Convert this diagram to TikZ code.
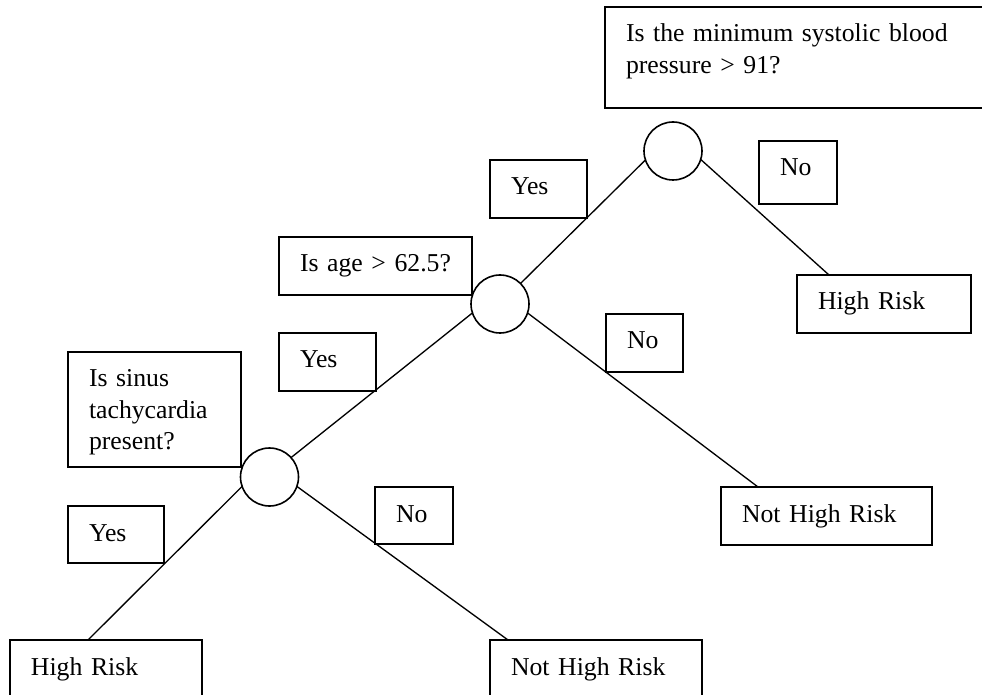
\documentclass[tikz,border=0pt]{standalone}
\usepackage{fontspec}
\setmainfont{Liberation Serif}

\tikzset{every picture/.style={line width=0.75pt}}
\tikzset{
  txtbox/.style={draw, line width=1.2pt, anchor=north west, outer sep=0pt,
    inner xsep=15.75pt, inner ysep=0pt, align=left, text height=26.25pt,
    font=\fontsize{19.3}{23.3}\selectfont},
  split/.style={draw, circle, line width=1.2pt, minimum size=43.5pt, inner sep=0pt, outer sep=0pt},
  branch/.style={line width=1pt}
}

\begin{document}
\begin{tikzpicture}[x=0.75pt,y=0.75pt,yscale=-1,xscale=1]
\useasboundingbox (0,0) rectangle (982,695);

% Text Node
\node [txtbox, text width=257.25pt, text depth=49.5pt] (sbp) at (605,7) {Is the minimum systolic blood\\pressure > 91?};
% Text Node
\node [txtbox, text width=113.25pt, text depth=17.25pt] (age) at (279,237) {\mbox{Is age > 62.5?}};
% Text Node
\node [txtbox, text width=98.25pt, text depth=60pt] (sinus) at (68,352) {Is sinus\\tachycardia\\present?};

% Text Node
\node [txtbox, text width=41.25pt, text depth=17.25pt] (yes1) at (490,160) {Yes};
% Text Node
\node [txtbox, text width=27pt, text depth=21pt] (no1) at (759,141) {No};
% Text Node
\node [txtbox, text width=41.25pt, text depth=17.25pt] (yes2) at (279,333) {Yes};
% Text Node
\node [txtbox, text width=26.25pt, text depth=17.25pt] (no2) at (606,314) {No};
% Text Node
\node [txtbox, text width=40.5pt, text depth=16.5pt] (yes3) at (68,506) {Yes};
% Text Node
\node [txtbox, text width=27pt, text depth=16.5pt] (no3) at (375,487) {No};

% Text Node
\node [txtbox, text width=99pt, text depth=17.25pt] (hr1) at (797,275) {High Risk};
% Text Node
\node [txtbox, text width=126.75pt, text depth=17.25pt] (nhr1) at (721,487) {Not High Risk};
% Text Node
\node [txtbox, text width=112.5pt, text depth=17.25pt] (hr2) at (10,640) {High Risk};
% Text Node
\node [txtbox, text width=127.5pt, text depth=17.25pt] (nhr2) at (490,640) {Not High Risk};

% Split Node
\node [split] (c1) at (673,151) {};
% Split Node
\node [split] (c2) at (500,304) {};
% Split Node
\node [split] (c3) at (269.5,477) {};

% Connection
\draw [branch] (c1.198) -- (c2.45);
% Connection
\draw [branch] (c1.343) -- ([xshift=24pt]hr1.north west);
% Connection
\draw [branch] (c2.198) -- (c3.42);
% Connection
\draw [branch] (c2.342) -- ([xshift=27.75pt]nhr1.north west);
% Connection
\draw [branch] (c3.199) -- ([xshift=58.5pt]hr2.north west);
% Connection
\draw [branch] (c3.341) -- ([xshift=13.5pt]nhr2.north west);

\end{tikzpicture}
\end{document}
